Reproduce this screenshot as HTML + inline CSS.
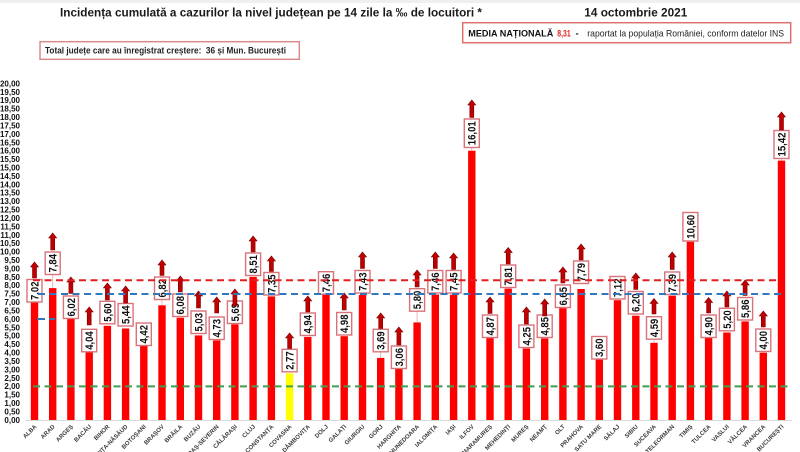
<!DOCTYPE html>
<html><head><meta charset="utf-8"><style>
html,body{margin:0;padding:0;background:#fff;width:800px;height:452px;overflow:hidden;}
svg{display:block;overflow:hidden;font-family:"Liberation Sans",Arial,sans-serif;}
.yl{font-size:8px;font-weight:bold;fill:#111;text-anchor:end;}
.xl{font-size:6px;font-weight:bold;fill:#3a3a3a;text-anchor:end;}
.bx{fill:#fff;stroke:#d9737a;stroke-width:1.4;}
.bt{font-size:11px;font-weight:bold;fill:#111;text-anchor:middle;}
.ar{fill:#c00000;stroke:#7a0000;stroke-width:0.6;}
.bar{fill:#ff0000;}
.ld{stroke:#e3a3a6;stroke-width:0.8;}
</style></head><body>
<svg width="800" height="452" viewBox="0 0 800 452" xmlns="http://www.w3.org/2000/svg">
<rect x="0" y="0" width="800" height="452" fill="#fff"/>
<rect x="0" y="0" width="800" height="3" fill="#efefef"/>

<!-- Title -->
<text x="60" y="16.5" font-size="12" font-weight="bold" fill="#1a1a1a" textLength="422" lengthAdjust="spacingAndGlyphs">Incidența cumulată a cazurilor la nivel județean pe 14 zile la ‰ de locuitori *</text>
<text x="584.3" y="16.7" font-size="12" font-weight="bold" fill="#1a1a1a" textLength="103" lengthAdjust="spacingAndGlyphs">14 octombrie 2021</text>

<!-- Box 1 -->
<rect x="40" y="41.7" width="259.3" height="17.6" fill="#fff" stroke="#d98a8f" stroke-width="1.5"/>
<text x="45" y="53.5" font-size="9" font-weight="bold" fill="#222" textLength="241" lengthAdjust="spacingAndGlyphs">Total județe care au înregistrat creștere:&#160; 36 și Mun. București</text>

<!-- Box 2 -->
<rect x="462.7" y="22.7" width="328" height="20" fill="#fff" stroke="#e07070" stroke-width="1.5"/>
<text x="468.3" y="36.3" font-size="9.5" font-weight="bold" fill="#111" textLength="85" lengthAdjust="spacingAndGlyphs">MEDIA NAȚIONALĂ</text>
<text x="557.3" y="36.3" font-size="9.5" font-weight="bold" fill="#e02020" textLength="13.4" lengthAdjust="spacingAndGlyphs">8,31</text>
<text x="575.5" y="36.3" font-size="9.5" font-weight="bold" fill="#111">-</text>
<text x="587.3" y="36.3" font-size="9.5" fill="#222" textLength="196.7" lengthAdjust="spacingAndGlyphs">raportat la populația României, conform datelor INS</text>

<!-- Y axis labels -->
<text class="yl" x="20" y="422.8">0,00</text>
<text class="yl" x="20" y="414.39">0,50</text>
<text class="yl" x="20" y="405.98">1,00</text>
<text class="yl" x="20" y="397.57">1,50</text>
<text class="yl" x="20" y="389.16">2,00</text>
<text class="yl" x="20" y="380.75">2,50</text>
<text class="yl" x="20" y="372.34">3,00</text>
<text class="yl" x="20" y="363.93">3,50</text>
<text class="yl" x="20" y="355.52">4,00</text>
<text class="yl" x="20" y="347.11">4,50</text>
<text class="yl" x="20" y="338.7">5,00</text>
<text class="yl" x="20" y="330.29">5,50</text>
<text class="yl" x="20" y="321.88">6,00</text>
<text class="yl" x="20" y="313.47">6,50</text>
<text class="yl" x="20" y="305.06">7,00</text>
<text class="yl" x="20" y="296.65">7,50</text>
<text class="yl" x="20" y="288.24">8,00</text>
<text class="yl" x="20" y="279.83">8,50</text>
<text class="yl" x="20" y="271.42">9,00</text>
<text class="yl" x="20" y="263.01">9,50</text>
<text class="yl" x="20" y="254.6">10,00</text>
<text class="yl" x="20" y="246.19">10,50</text>
<text class="yl" x="20" y="237.78">11,00</text>
<text class="yl" x="20" y="229.37">11,50</text>
<text class="yl" x="20" y="220.96">12,00</text>
<text class="yl" x="20" y="212.55">12,50</text>
<text class="yl" x="20" y="204.14">13,00</text>
<text class="yl" x="20" y="195.73">13,50</text>
<text class="yl" x="20" y="187.32">14,00</text>
<text class="yl" x="20" y="178.91">14,50</text>
<text class="yl" x="20" y="170.5">15,00</text>
<text class="yl" x="20" y="162.09">15,50</text>
<text class="yl" x="20" y="153.68">16,00</text>
<text class="yl" x="20" y="145.27">16,50</text>
<text class="yl" x="20" y="136.86">17,00</text>
<text class="yl" x="20" y="128.45">17,50</text>
<text class="yl" x="20" y="120.04">18,00</text>
<text class="yl" x="20" y="111.63">18,50</text>
<text class="yl" x="20" y="103.22">19,00</text>
<text class="yl" x="20" y="94.81">19,50</text>
<text class="yl" x="20" y="86.4">20,00</text>

<!-- Axis line -->
<line x1="25" y1="420.5" x2="792" y2="420.5" stroke="#d9d9d9" stroke-width="1"/>

<!-- Bars -->
<rect class="bar" x="30.8" y="301.9" width="7.4" height="118.1"/>
<rect class="bar" x="49.0" y="288.1" width="7.4" height="131.9"/>
<rect class="bar" x="67.2" y="318.7" width="7.4" height="101.3"/>
<rect class="bar" x="85.5" y="352.0" width="7.4" height="68.0"/>
<rect class="bar" x="103.7" y="325.8" width="7.4" height="94.2"/>
<rect class="bar" x="121.9" y="328.5" width="7.4" height="91.5"/>
<rect class="bar" x="140.1" y="345.7" width="7.4" height="74.3"/>
<rect class="bar" x="158.3" y="305.3" width="7.4" height="114.7"/>
<rect class="bar" x="176.6" y="317.7" width="7.4" height="102.3"/>
<rect class="bar" x="194.8" y="335.4" width="7.4" height="84.6"/>
<rect class="bar" x="213.0" y="340.4" width="7.4" height="79.6"/>
<rect class="bar" x="231.2" y="324.3" width="7.4" height="95.7"/>
<rect class="bar" x="249.4" y="276.9" width="7.4" height="143.1"/>
<rect class="bar" x="267.7" y="296.4" width="7.4" height="123.6"/>
<rect x="285.9" y="373.4" width="7.4" height="46.6" fill="#ffff00"/>
<rect class="bar" x="304.1" y="336.9" width="7.4" height="83.1"/>
<rect class="bar" x="322.3" y="294.5" width="7.4" height="125.5"/>
<rect class="bar" x="340.5" y="336.2" width="7.4" height="83.8"/>
<rect class="bar" x="358.8" y="295.0" width="7.4" height="125.0"/>
<rect class="bar" x="377.0" y="357.9" width="7.4" height="62.1"/>
<rect class="bar" x="395.2" y="368.5" width="7.4" height="51.5"/>
<rect class="bar" x="413.4" y="322.4" width="7.4" height="97.6"/>
<rect class="bar" x="431.6" y="294.5" width="7.4" height="125.5"/>
<rect class="bar" x="449.9" y="294.7" width="7.4" height="125.3"/>
<rect class="bar" x="468.1" y="150.7" width="7.4" height="269.3"/>
<rect class="bar" x="486.3" y="338.1" width="7.4" height="81.9"/>
<rect class="bar" x="504.5" y="288.6" width="7.4" height="131.4"/>
<rect class="bar" x="522.7" y="348.5" width="7.4" height="71.5"/>
<rect class="bar" x="541.0" y="338.4" width="7.4" height="81.6"/>
<rect class="bar" x="559.2" y="308.1" width="7.4" height="111.9"/>
<rect class="bar" x="577.4" y="289.0" width="7.4" height="131.0"/>
<rect class="bar" x="595.6" y="359.4" width="7.4" height="60.6"/>
<rect class="bar" x="613.8" y="300.2" width="7.4" height="119.8"/>
<rect class="bar" x="632.1" y="315.7" width="7.4" height="104.3"/>
<rect class="bar" x="650.3" y="342.8" width="7.4" height="77.2"/>
<rect class="bar" x="668.5" y="295.7" width="7.4" height="124.3"/>
<rect class="bar" x="686.7" y="241.7" width="7.4" height="178.3"/>
<rect class="bar" x="704.9" y="337.6" width="7.4" height="82.4"/>
<rect class="bar" x="723.2" y="332.5" width="7.4" height="87.5"/>
<rect class="bar" x="741.4" y="321.4" width="7.4" height="98.6"/>
<rect class="bar" x="759.6" y="352.7" width="7.4" height="67.3"/>
<rect class="bar" x="777.8" y="160.6" width="7.4" height="259.4"/>

<!-- Leader lines -->
<line class="ld" x1="52.7" y1="274.5" x2="52.7" y2="288.1"/>
<line class="ld" x1="162.0" y1="299.5" x2="162.0" y2="305.3"/>
<line class="ld" x1="380.7" y1="351.8" x2="380.7" y2="357.9"/>
<line class="ld" x1="417.1" y1="311.2" x2="417.1" y2="322.4"/>
<line class="ld" x1="471.8" y1="147.5" x2="471.8" y2="150.7"/>
<line class="ld" x1="599.3" y1="359" x2="599.3" y2="359.4"/>
<line class="ld" x1="617.5" y1="299" x2="617.5" y2="300.2"/>
<line class="ld" x1="654.0" y1="339.2" x2="654.0" y2="342.8"/>
<line class="ld" x1="763.3" y1="351.5" x2="763.3" y2="352.7"/>
<line class="ld" x1="781.5" y1="158.5" x2="781.5" y2="160.6"/>

<!-- Label boxes -->
<g>
<rect class="bx" x="27.0" y="279.5" width="15" height="22.5"/><text class="bt" transform="translate(34.5,290.75) rotate(-90)" dy="3.9" textLength="18.5" lengthAdjust="spacingAndGlyphs">7,02</text>
<rect class="bx" x="45.2" y="252" width="15" height="22.5"/><text class="bt" transform="translate(52.7,263.25) rotate(-90)" dy="3.9" textLength="18.5" lengthAdjust="spacingAndGlyphs">7,84</text>
<rect class="bx" x="63.4" y="296" width="15" height="22.5"/><text class="bt" transform="translate(70.9,307.25) rotate(-90)" dy="3.9" textLength="18.5" lengthAdjust="spacingAndGlyphs">6,02</text>
<rect class="bx" x="81.7" y="329.3" width="15" height="22.5"/><text class="bt" transform="translate(89.2,340.55) rotate(-90)" dy="3.9" textLength="18.5" lengthAdjust="spacingAndGlyphs">4,04</text>
<rect class="bx" x="99.9" y="301.3" width="15" height="22.5"/><text class="bt" transform="translate(107.4,312.55) rotate(-90)" dy="3.9" textLength="18.5" lengthAdjust="spacingAndGlyphs">5,60</text>
<rect class="bx" x="118.1" y="303.5" width="15" height="22.5"/><text class="bt" transform="translate(125.6,314.75) rotate(-90)" dy="3.9" textLength="18.5" lengthAdjust="spacingAndGlyphs">5,44</text>
<rect class="bx" x="136.3" y="323" width="15" height="22.5"/><text class="bt" transform="translate(143.8,334.25) rotate(-90)" dy="3.9" textLength="18.5" lengthAdjust="spacingAndGlyphs">4,42</text>
<rect class="bx" x="154.5" y="277" width="15" height="22.5"/><text class="bt" transform="translate(162.0,288.25) rotate(-90)" dy="3.9" textLength="18.5" lengthAdjust="spacingAndGlyphs">6,82</text>
<rect class="bx" x="172.8" y="294" width="15" height="22.5"/><text class="bt" transform="translate(180.3,305.25) rotate(-90)" dy="3.9" textLength="18.5" lengthAdjust="spacingAndGlyphs">6,08</text>
<rect class="bx" x="191.0" y="311" width="15" height="22.5"/><text class="bt" transform="translate(198.5,322.25) rotate(-90)" dy="3.9" textLength="18.5" lengthAdjust="spacingAndGlyphs">5,03</text>
<rect class="bx" x="209.2" y="317" width="15" height="22.5"/><text class="bt" transform="translate(216.7,328.25) rotate(-90)" dy="3.9" textLength="18.5" lengthAdjust="spacingAndGlyphs">4,73</text>
<rect class="bx" x="227.4" y="301" width="15" height="22.5"/><text class="bt" transform="translate(234.9,312.25) rotate(-90)" dy="3.9" textLength="18.5" lengthAdjust="spacingAndGlyphs">5,69</text>
<rect class="bx" x="245.6" y="253" width="15" height="22.5"/><text class="bt" transform="translate(253.1,264.25) rotate(-90)" dy="3.9" textLength="18.5" lengthAdjust="spacingAndGlyphs">8,51</text>
<rect class="bx" x="263.9" y="272.5" width="15" height="22.5"/><text class="bt" transform="translate(271.4,283.75) rotate(-90)" dy="3.9" textLength="18.5" lengthAdjust="spacingAndGlyphs">7,35</text>
<rect class="bx" x="282.1" y="349.3" width="15" height="22.5"/><text class="bt" transform="translate(289.6,360.55) rotate(-90)" dy="3.9" textLength="18.5" lengthAdjust="spacingAndGlyphs">2,77</text>
<rect class="bx" x="300.3" y="313" width="15" height="22.5"/><text class="bt" transform="translate(307.8,324.25) rotate(-90)" dy="3.9" textLength="18.5" lengthAdjust="spacingAndGlyphs">4,94</text>
<rect class="bx" x="318.5" y="271.7" width="15" height="22.5"/><text class="bt" transform="translate(326.0,282.95) rotate(-90)" dy="3.9" textLength="18.5" lengthAdjust="spacingAndGlyphs">7,46</text>
<rect class="bx" x="336.7" y="312.5" width="15" height="22.5"/><text class="bt" transform="translate(344.2,323.75) rotate(-90)" dy="3.9" textLength="18.5" lengthAdjust="spacingAndGlyphs">4,98</text>
<rect class="bx" x="355.0" y="270.5" width="15" height="22.5"/><text class="bt" transform="translate(362.5,281.75) rotate(-90)" dy="3.9" textLength="18.5" lengthAdjust="spacingAndGlyphs">7,43</text>
<rect class="bx" x="373.2" y="329.3" width="15" height="22.5"/><text class="bt" transform="translate(380.7,340.55) rotate(-90)" dy="3.9" textLength="18.5" lengthAdjust="spacingAndGlyphs">3,69</text>
<rect class="bx" x="391.4" y="346" width="15" height="22.5"/><text class="bt" transform="translate(398.9,357.25) rotate(-90)" dy="3.9" textLength="18.5" lengthAdjust="spacingAndGlyphs">3,06</text>
<rect class="bx" x="409.6" y="288.7" width="15" height="22.5"/><text class="bt" transform="translate(417.1,299.95) rotate(-90)" dy="3.9" textLength="18.5" lengthAdjust="spacingAndGlyphs">5,80</text>
<rect class="bx" x="427.8" y="270.5" width="15" height="22.5"/><text class="bt" transform="translate(435.3,281.75) rotate(-90)" dy="3.9" textLength="18.5" lengthAdjust="spacingAndGlyphs">7,46</text>
<rect class="bx" x="446.1" y="270.5" width="15" height="22.5"/><text class="bt" transform="translate(453.6,281.75) rotate(-90)" dy="3.9" textLength="18.5" lengthAdjust="spacingAndGlyphs">7,45</text>
<rect class="bx" x="464.3" y="119" width="15" height="28.5"/><text class="bt" transform="translate(471.8,133.25) rotate(-90)" dy="3.9" textLength="24" lengthAdjust="spacingAndGlyphs">16,01</text>
<rect class="bx" x="482.5" y="315" width="15" height="22.5"/><text class="bt" transform="translate(490.0,326.25) rotate(-90)" dy="3.9" textLength="18.5" lengthAdjust="spacingAndGlyphs">4,87</text>
<rect class="bx" x="500.7" y="265" width="15" height="22.5"/><text class="bt" transform="translate(508.2,276.25) rotate(-90)" dy="3.9" textLength="18.5" lengthAdjust="spacingAndGlyphs">7,81</text>
<rect class="bx" x="518.9" y="325" width="15" height="22.5"/><text class="bt" transform="translate(526.4,336.25) rotate(-90)" dy="3.9" textLength="18.5" lengthAdjust="spacingAndGlyphs">4,25</text>
<rect class="bx" x="537.2" y="315" width="15" height="22.5"/><text class="bt" transform="translate(544.7,326.25) rotate(-90)" dy="3.9" textLength="18.5" lengthAdjust="spacingAndGlyphs">4,85</text>
<rect class="bx" x="555.4" y="285" width="15" height="22.5"/><text class="bt" transform="translate(562.9,296.25) rotate(-90)" dy="3.9" textLength="18.5" lengthAdjust="spacingAndGlyphs">6,65</text>
<rect class="bx" x="573.6" y="261" width="15" height="22.5"/><text class="bt" transform="translate(581.1,272.25) rotate(-90)" dy="3.9" textLength="18.5" lengthAdjust="spacingAndGlyphs">7,79</text>
<rect class="bx" x="591.8" y="336.5" width="15" height="22.5"/><text class="bt" transform="translate(599.3,347.75) rotate(-90)" dy="3.9" textLength="18.5" lengthAdjust="spacingAndGlyphs">3,60</text>
<rect class="bx" x="610.0" y="276.5" width="15" height="22.5"/><text class="bt" transform="translate(617.5,287.75) rotate(-90)" dy="3.9" textLength="18.5" lengthAdjust="spacingAndGlyphs">7,12</text>
<rect class="bx" x="628.3" y="291.5" width="15" height="22.5"/><text class="bt" transform="translate(635.8,302.75) rotate(-90)" dy="3.9" textLength="18.5" lengthAdjust="spacingAndGlyphs">6,20</text>
<rect class="bx" x="646.5" y="316.7" width="15" height="22.5"/><text class="bt" transform="translate(654.0,327.95) rotate(-90)" dy="3.9" textLength="18.5" lengthAdjust="spacingAndGlyphs">4,59</text>
<rect class="bx" x="664.7" y="272" width="15" height="22.5"/><text class="bt" transform="translate(672.2,283.25) rotate(-90)" dy="3.9" textLength="18.5" lengthAdjust="spacingAndGlyphs">7,39</text>
<rect class="bx" x="682.9" y="212.5" width="15" height="28.5"/><text class="bt" transform="translate(690.4,226.75) rotate(-90)" dy="3.9" textLength="24" lengthAdjust="spacingAndGlyphs">10,60</text>
<rect class="bx" x="701.1" y="315" width="15" height="22.5"/><text class="bt" transform="translate(708.6,326.25) rotate(-90)" dy="3.9" textLength="18.5" lengthAdjust="spacingAndGlyphs">4,90</text>
<rect class="bx" x="719.4" y="308.3" width="15" height="22.5"/><text class="bt" transform="translate(726.9,319.55) rotate(-90)" dy="3.9" textLength="18.5" lengthAdjust="spacingAndGlyphs">5,20</text>
<rect class="bx" x="737.6" y="297.5" width="15" height="22.5"/><text class="bt" transform="translate(745.1,308.75) rotate(-90)" dy="3.9" textLength="18.5" lengthAdjust="spacingAndGlyphs">5,86</text>
<rect class="bx" x="755.8" y="329" width="15" height="22.5"/><text class="bt" transform="translate(763.3,340.25) rotate(-90)" dy="3.9" textLength="18.5" lengthAdjust="spacingAndGlyphs">4,00</text>
<rect class="bx" x="774.0" y="130.5" width="15" height="28"/><text class="bt" transform="translate(781.5,144.5) rotate(-90)" dy="3.9" textLength="24" lengthAdjust="spacingAndGlyphs">15,42</text>
</g>

<!-- Arrows -->
<g>
<path class="ar" d="M32.5,278 L32.5,267 L30.5,267 L34.5,262 L38.5,267 L36.5,267 L36.5,278 Z"/>
<path class="ar" d="M50.7,250 L50.7,238 L48.7,238 L52.7,233 L56.7,238 L54.7,238 L54.7,250 Z"/>
<path class="ar" d="M68.9,293.5 L68.9,282 L66.9,282 L70.9,277 L74.9,282 L72.9,282 L72.9,293.5 Z"/>
<path class="ar" d="M87.2,325 L87.2,312 L85.2,312 L89.2,307 L93.2,312 L91.2,312 L91.2,325 Z"/>
<path class="ar" d="M105.4,300 L105.4,288 L103.4,288 L107.4,283 L111.4,288 L109.4,288 L109.4,300 Z"/>
<path class="ar" d="M123.6,303 L123.6,291 L121.6,291 L125.6,286 L129.6,291 L127.6,291 L127.6,303 Z"/>
<path class="ar" d="M160.0,275.5 L160.0,265 L158.0,265 L162.0,260 L166.0,265 L164.0,265 L164.0,275.5 Z"/>
<path class="ar" d="M178.3,292 L178.3,281 L176.3,281 L180.3,276 L184.3,281 L182.3,281 L182.3,292 Z"/>
<path class="ar" d="M196.5,308 L196.5,296 L194.5,296 L198.5,291 L202.5,296 L200.5,296 L200.5,308 Z"/>
<path class="ar" d="M214.7,313 L214.7,302 L212.7,302 L216.7,297 L220.7,302 L218.7,302 L218.7,313 Z"/>
<path class="ar" d="M232.9,306 L232.9,294 L230.9,294 L234.9,289 L238.9,294 L236.9,294 L236.9,306 Z"/>
<path class="ar" d="M251.1,252 L251.1,241 L249.1,241 L253.1,236 L257.1,241 L255.1,241 L255.1,252 Z"/>
<path class="ar" d="M269.4,271.5 L269.4,261 L267.4,261 L271.4,256 L275.4,261 L273.4,261 L273.4,271.5 Z"/>
<path class="ar" d="M287.6,348.5 L287.6,338 L285.6,338 L289.6,333 L293.6,338 L291.6,338 L291.6,348.5 Z"/>
<path class="ar" d="M305.8,312 L305.8,301 L303.8,301 L307.8,296 L311.8,301 L309.8,301 L309.8,312 Z"/>
<path class="ar" d="M342.2,310 L342.2,298 L340.2,298 L344.2,293 L348.2,298 L346.2,298 L346.2,310 Z"/>
<path class="ar" d="M360.5,268.5 L360.5,257 L358.5,257 L362.5,252 L366.5,257 L364.5,257 L364.5,268.5 Z"/>
<path class="ar" d="M378.7,328.5 L378.7,318 L376.7,318 L380.7,313 L384.7,318 L382.7,318 L382.7,328.5 Z"/>
<path class="ar" d="M396.9,345 L396.9,332 L394.9,332 L398.9,327 L402.9,332 L400.9,332 L400.9,345 Z"/>
<path class="ar" d="M415.1,287 L415.1,275 L413.1,275 L417.1,270 L421.1,275 L419.1,275 L419.1,287 Z"/>
<path class="ar" d="M433.3,268.5 L433.3,257 L431.3,257 L435.3,252 L439.3,257 L437.3,257 L437.3,268.5 Z"/>
<path class="ar" d="M451.6,269.5 L451.6,258 L449.6,258 L453.6,253 L457.6,258 L455.6,258 L455.6,269.5 Z"/>
<path class="ar" d="M469.8,117.5 L469.8,105 L467.8,105 L471.8,100 L475.8,105 L473.8,105 L473.8,117.5 Z"/>
<path class="ar" d="M488.0,313.5 L488.0,302 L486.0,302 L490.0,297 L494.0,302 L492.0,302 L492.0,313.5 Z"/>
<path class="ar" d="M506.2,264 L506.2,252.5 L504.2,252.5 L508.2,247.5 L512.2,252.5 L510.2,252.5 L510.2,264 Z"/>
<path class="ar" d="M524.4,324 L524.4,312 L522.4,312 L526.4,307 L530.4,312 L528.4,312 L528.4,324 Z"/>
<path class="ar" d="M542.7,316 L542.7,304 L540.7,304 L544.7,299 L548.7,304 L546.7,304 L546.7,316 Z"/>
<path class="ar" d="M560.9,283 L560.9,272 L558.9,272 L562.9,267 L566.9,272 L564.9,272 L564.9,283 Z"/>
<path class="ar" d="M579.1,260 L579.1,249 L577.1,249 L581.1,244 L585.1,249 L583.1,249 L583.1,260 Z"/>
<path class="ar" d="M633.8,289.5 L633.8,278 L631.8,278 L635.8,273 L639.8,278 L637.8,278 L637.8,289.5 Z"/>
<path class="ar" d="M652.0,314 L652.0,303.5 L650.0,303.5 L654.0,298.5 L658.0,303.5 L656.0,303.5 L656.0,314 Z"/>
<path class="ar" d="M670.2,269.5 L670.2,257 L668.2,257 L672.2,252 L676.2,257 L674.2,257 L674.2,269.5 Z"/>
<path class="ar" d="M706.6,313 L706.6,302.5 L704.6,302.5 L708.6,297.5 L712.6,302.5 L710.6,302.5 L710.6,313 Z"/>
<path class="ar" d="M724.9,307 L724.9,296 L722.9,296 L726.9,291 L730.9,296 L728.9,296 L728.9,307 Z"/>
<path class="ar" d="M743.1,295.5 L743.1,285 L741.1,285 L745.1,280 L749.1,285 L747.1,285 L747.1,295.5 Z"/>
<path class="ar" d="M761.3,327 L761.3,316 L759.3,316 L763.3,311 L767.3,316 L765.3,316 L765.3,327 Z"/>
<path class="ar" d="M779.5,130 L779.5,117 L777.5,117 L781.5,112 L785.5,117 L783.5,117 L783.5,130 Z"/>
</g>

<!-- Reference lines (drawn on top) -->
<line x1="33" y1="280.2" x2="776" y2="280.2" stroke="#e02020" stroke-width="2" stroke-dasharray="7,4.5"/>
<line x1="38" y1="294" x2="784" y2="294" stroke="#2f78c0" stroke-width="2" stroke-dasharray="7,4.5"/>
<line x1="37" y1="319" x2="55" y2="319" stroke="#2f78c0" stroke-width="2" stroke-dasharray="8,4.5"/>
<line x1="33" y1="386.4" x2="792" y2="386.4" stroke="#3d9e4f" stroke-width="2" stroke-dasharray="7,4.5"/>

<!-- X axis labels -->
<g>
<text class="xl" transform="translate(37.0,427) rotate(-45)">ALBA</text>
<text class="xl" transform="translate(55.2,427) rotate(-45)">ARAD</text>
<text class="xl" transform="translate(73.4,427) rotate(-45)">ARGEȘ</text>
<text class="xl" transform="translate(91.7,427) rotate(-45)">BACĂU</text>
<text class="xl" transform="translate(109.9,427) rotate(-45)">BIHOR</text>
<text class="xl" transform="translate(128.1,427) rotate(-45)">BISTRIȚA-NĂSĂUD</text>
<text class="xl" transform="translate(146.3,427) rotate(-45)">BOTOȘANI</text>
<text class="xl" transform="translate(164.5,427) rotate(-45)">BRAȘOV</text>
<text class="xl" transform="translate(182.8,427) rotate(-45)">BRĂILA</text>
<text class="xl" transform="translate(201.0,427) rotate(-45)">BUZĂU</text>
<text class="xl" transform="translate(219.2,427) rotate(-45)">CARAȘ-SEVERIN</text>
<text class="xl" transform="translate(237.4,427) rotate(-45)">CĂLĂRAȘI</text>
<text class="xl" transform="translate(255.6,427) rotate(-45)">CLUJ</text>
<text class="xl" transform="translate(273.9,427) rotate(-45)">CONSTANȚA</text>
<text class="xl" transform="translate(292.1,427) rotate(-45)">COVASNA</text>
<text class="xl" transform="translate(310.3,427) rotate(-45)">DÂMBOVIȚA</text>
<text class="xl" transform="translate(328.5,427) rotate(-45)">DOLJ</text>
<text class="xl" transform="translate(346.7,427) rotate(-45)">GALAȚI</text>
<text class="xl" transform="translate(365.0,427) rotate(-45)">GIURGIU</text>
<text class="xl" transform="translate(383.2,427) rotate(-45)">GORJ</text>
<text class="xl" transform="translate(401.4,427) rotate(-45)">HARGHITA</text>
<text class="xl" transform="translate(419.6,427) rotate(-45)">HUNEDOARA</text>
<text class="xl" transform="translate(437.8,427) rotate(-45)">IALOMIȚA</text>
<text class="xl" transform="translate(456.1,427) rotate(-45)">IAȘI</text>
<text class="xl" transform="translate(474.3,427) rotate(-45)">ILFOV</text>
<text class="xl" transform="translate(492.5,427) rotate(-45)">MARAMUREȘ</text>
<text class="xl" transform="translate(510.7,427) rotate(-45)">MEHEDINȚI</text>
<text class="xl" transform="translate(528.9,427) rotate(-45)">MUREȘ</text>
<text class="xl" transform="translate(547.2,427) rotate(-45)">NEAMȚ</text>
<text class="xl" transform="translate(565.4,427) rotate(-45)">OLT</text>
<text class="xl" transform="translate(583.6,427) rotate(-45)">PRAHOVA</text>
<text class="xl" transform="translate(601.8,427) rotate(-45)">SATU MARE</text>
<text class="xl" transform="translate(620.0,427) rotate(-45)">SĂLAJ</text>
<text class="xl" transform="translate(638.3,427) rotate(-45)">SIBIU</text>
<text class="xl" transform="translate(656.5,427) rotate(-45)">SUCEAVA</text>
<text class="xl" transform="translate(674.7,427) rotate(-45)">TELEORMAN</text>
<text class="xl" transform="translate(692.9,427) rotate(-45)">TIMIȘ</text>
<text class="xl" transform="translate(711.1,427) rotate(-45)">TULCEA</text>
<text class="xl" transform="translate(729.4,427) rotate(-45)">VASLUI</text>
<text class="xl" transform="translate(747.6,427) rotate(-45)">VÂLCEA</text>
<text class="xl" transform="translate(765.8,427) rotate(-45)">VRANCEA</text>
<text class="xl" transform="translate(784.0,427) rotate(-45)">MUNICIPIUL BUCUREȘTI</text>
</g>
</svg>
</body></html>
